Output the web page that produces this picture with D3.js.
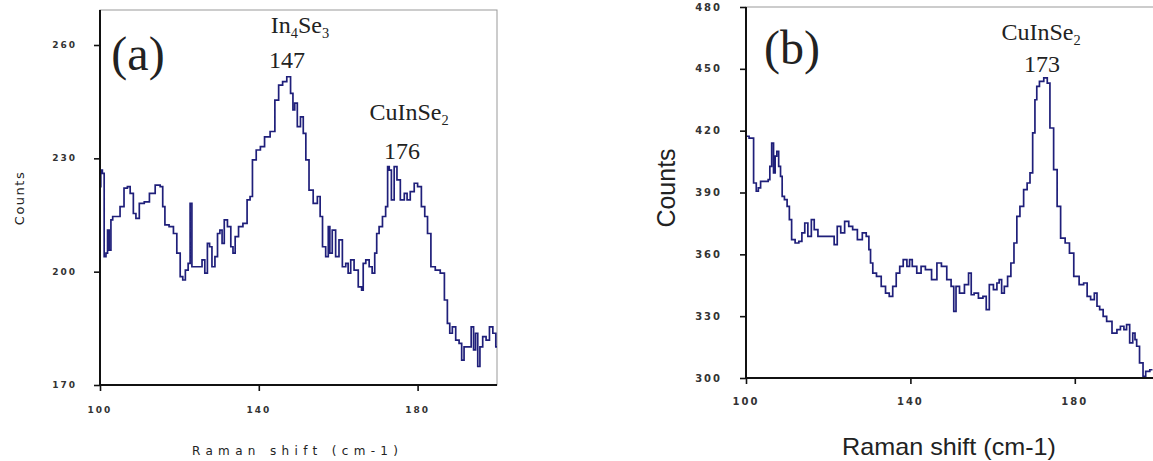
<!DOCTYPE html>
<html>
<head>
<meta charset="utf-8">
<script src="https://cdn.jsdelivr.net/npm/d3@7"></script>
<style>
  html, body { margin: 0; padding: 0; background: #fff; }
  svg { display: block; }
  .tick-label { font-family: "DejaVu Sans", Arial, sans-serif; font-weight: bold; fill: #333; }
  .ann { font-family: "Liberation Serif", "Times New Roman", serif; fill: #222; }
</style>
</head>
<body>
<svg id="chart" width="1153" height="461"></svg>
<script>
// Raman spectrum (a): shift in cm-1 and counts
const shiftA = [100.0,100.4,100.8,101.3,101.7,102.1,102.5,103.0,103.4,104.6,105.5,106.6,107.2,108.0,108.8,109.3,110.5,111.8,113.1,114.7,115.6,116.0,116.7,118.1,118.9,119.8,120.6,121.1,121.9,122.5,122.9,123.4,125.3,126.1,126.7,127.4,127.8,128.6,129.3,129.9,130.5,131.0,131.6,132.6,133.3,133.7,134.4,135.4,136.6,137.5,138.1,138.7,140.0,140.8,142.1,143.6,144.5,145.5,146.5,147.6,148.4,148.8,149.3,150.1,150.9,151.5,152.2,153.1,154.3,155.2,155.7,156.4,157.3,157.7,158.1,158.9,159.8,160.6,161.5,162.3,162.7,163.6,164.4,165.7,166.1,166.5,167.4,168.2,168.9,169.5,169.9,170.7,171.6,172.3,172.6,173.1,173.7,174.5,175.1,176.2,177.1,177.6,178.7,179.6,180.4,181.5,182.1,182.9,183.8,185.1,186.3,187.2,187.8,188.4,189.1,190.1,190.8,191.4,192.0,193.1,193.9,194.3,194.9,195.4,196.0,196.8,197.7,198.5,199.4,200.0];
const countsA = [222.5,226.9,226.0,204.0,204.9,211.0,205.7,213.7,214.6,214.6,217.2,222.1,222.5,220.7,215.4,214.1,218.1,218.5,220.7,222.9,222.5,217.2,212.4,211.9,210.1,204.9,198.7,197.8,200.4,202.2,218.1,201.3,201.3,203.1,199.6,207.5,206.6,201.3,204.0,210.1,211.0,207.5,213.7,211.9,206.6,204.9,209.3,211.9,212.8,219.0,219.9,229.6,232.2,233.1,235.7,237.1,245.4,249.4,250.3,251.6,247.2,242.8,244.6,238.4,241.0,236.6,229.6,221.6,218.1,219.9,214.6,206.6,204.0,211.9,204.9,211.0,204.0,208.4,201.3,202.2,199.6,203.1,200.4,196.0,195.1,202.2,203.1,201.3,199.6,204.9,210.1,211.9,214.6,217.2,227.8,226.9,219.0,227.8,224.3,219.0,220.7,219.0,221.2,223.4,222.5,217.2,214.6,210.1,201.3,200.4,199.6,192.5,186.3,183.7,185.4,181.9,181.0,176.6,180.1,180.1,185.4,179.3,183.7,174.9,180.1,182.8,181.9,185.4,183.7,180.1];

// Raman spectrum (b): shift in cm-1 and counts
const shiftB = [100.0,101.5,102.2,102.8,103.2,103.9,105.2,105.6,106.0,106.5,106.9,107.3,107.7,108.2,108.6,109.0,109.7,110.3,110.8,111.4,112.5,113.2,114.0,114.6,115.5,116.3,116.9,118.1,121.1,121.8,122.6,123.5,124.5,125.5,126.4,127.8,128.8,129.7,130.1,130.5,131.2,132.3,133.5,134.4,135.3,136.1,137.0,137.8,138.7,139.6,140.0,140.9,142.2,143.0,144.3,146.0,146.9,148.2,149.5,150.3,150.8,151.4,152.5,153.8,154.5,155.1,155.9,157.2,158.1,158.8,159.6,160.8,161.3,161.9,162.5,163.2,164.1,164.8,165.6,166.2,167.1,168.0,168.8,169.4,170.1,170.5,171.0,171.8,173.1,173.5,174.4,175.3,176.1,177.0,178.3,179.1,180.4,181.7,182.6,183.4,184.3,185.2,185.6,186.5,187.3,188.2,189.9,190.6,191.6,192.3,192.9,193.8,194.4,194.9,195.2,196.3,196.9,197.6,198.9];
const countsB = [417.3,416.4,394.6,390.6,392.2,395.4,395.4,396.2,402.7,414.0,399.5,407.6,410.0,402.7,397.8,388.1,386.5,383.3,376.8,367.1,365.5,366.3,370.4,375.2,368.7,376.8,372.0,368.7,368.7,364.7,373.6,370.4,376.0,373.6,372.0,367.1,370.4,368.7,362.3,355.8,350.9,349.3,344.5,341.2,339.6,344.5,350.9,354.2,357.4,354.2,357.4,354.2,350.9,354.2,352.6,347.7,355.8,354.2,347.7,344.5,332.3,344.5,341.2,345.3,350.9,340.4,341.2,338.8,339.6,333.2,345.3,342.9,346.1,347.7,341.2,344.5,349.3,355.8,365.5,378.4,383.3,391.4,394.6,399.5,418.9,435.0,441.5,443.9,445.6,443.1,421.3,401.1,383.3,367.9,365.5,360.6,349.3,345.3,346.1,339.6,338.0,341.2,334.8,333.2,329.9,327.5,321.8,323.5,325.1,323.5,325.9,317.0,321.8,318.6,315.4,307.3,300.8,303.2,304.0];

// Axis ticks
const xTicks = [100, 140, 180];
const yTicksA = [170, 200, 230, 260];
const yTicksB = [300, 330, 360, 390, 420, 450, 480];

const svg = d3.select("#chart");
const lineColor = "#1f1f7a";

function panel(opts) {
  const g = svg.append("g");
  const x = d3.scaleLinear().domain([100, 200]).range([opts.left, opts.right]);
  const y = d3.scaleLinear().domain(opts.yDomain).range([opts.bottom, opts.yTopTick]);

  // light frame around the plot area
  g.append("rect")
    .attr("x", opts.left).attr("y", opts.top)
    .attr("width", opts.right - opts.left).attr("height", opts.bottom - opts.top)
    .attr("fill", "none").attr("stroke", "#999").attr("stroke-width", 1);

  const clipId = "clip-" + opts.id;
  svg.append("clipPath").attr("id", clipId).append("rect")
    .attr("x", opts.left).attr("y", opts.top - 2)
    .attr("width", opts.right - opts.left).attr("height", opts.bottom - opts.top + 2);

  const data = opts.xs.map((v, i) => [v, opts.ys[i]]);
  g.append("path")
    .datum(data)
    .attr("clip-path", `url(#${clipId})`)
    .attr("fill", "none")
    .attr("stroke", lineColor)
    .attr("stroke-width", 1.7)
    .attr("d", d3.line().curve(d3.curveStep).x(d => x(d[0])).y(d => y(d[1])));

  // axes
  const xAxis = d3.axisBottom(x).tickValues(xTicks).tickSize(6).tickFormat("");
  const yAxis = d3.axisLeft(y).tickValues(opts.yTicks).tickSize(6).tickFormat("");
  const gx = g.append("g").attr("transform", `translate(0,${opts.bottom})`).call(xAxis);
  const gy = g.append("g").attr("transform", `translate(${opts.left},0)`).call(yAxis);
  [gx, gy].forEach(a => {
    a.select(".domain").attr("stroke", "#111").attr("stroke-width", 2);
    a.selectAll(".tick line").attr("stroke", "#111").attr("stroke-width", 1.6);
  });
  gy.select(".domain").attr("d", `M0,${opts.top}V${opts.bottom}`);
  gx.select(".domain").attr("d", `M${opts.left},0H${opts.right}`);

  // tick labels
  g.selectAll(".ylab").data(opts.yTicks).enter().append("text")
    .attr("class", "tick-label")
    .attr("x", opts.left - opts.yLabOffset).attr("y", d => y(d))
    .attr("dy", "0.35em").attr("text-anchor", "end")
    .attr("font-size", opts.tickFont).attr("letter-spacing", opts.tickSpacing)
    .text(d => d);
  g.selectAll(".xlab").data(xTicks).enter().append("text")
    .attr("class", "tick-label")
    .attr("x", d => x(d)).attr("y", opts.xLabY)
    .attr("text-anchor", "middle")
    .attr("font-size", opts.tickFont).attr("letter-spacing", opts.tickSpacing)
    .text(d => d);

  return { g, x, y };
}

// chemical formula with subscripts; parts alternate between normal and subscript runs
function chem(g, x, y, parts, size) {
  const t = g.append("text").attr("class", "ann").attr("x", x).attr("y", y)
    .attr("font-size", size).attr("text-anchor", "middle");
  let shifted = false;
  parts.forEach(p => {
    const span = t.append("tspan").text(p.t);
    if (p.sub) {
      span.attr("font-size", size * 0.6).attr("dy", size * 0.2);
      shifted = true;
    } else if (shifted) {
      span.attr("dy", -size * 0.2);
      shifted = false;
    }
  });
  return t;
}

// ---- panel (a)
const pa = panel({
  id: "a", left: 100, right: 497, top: 10, bottom: 385, yTopTick: 45,
  yDomain: [170, 260], yTicks: yTicksA, xs: shiftA, ys: countsA,
  tickFont: 9, tickSpacing: 2, yLabOffset: 23, xLabY: 413
});
pa.g.append("text")
  .attr("transform", "translate(24,198) rotate(-90)")
  .attr("text-anchor", "middle")
  .attr("font-family", "DejaVu Sans, Arial, sans-serif").attr("font-size", 13)
  .attr("letter-spacing", 1.5).attr("fill", "#222")
  .text("Counts");
pa.g.append("text")
  .attr("x", 192).attr("y", 455)
  .attr("font-family", "DejaVu Sans, Arial, sans-serif").attr("font-size", 12)
  .attr("textLength", 206).attr("lengthAdjust", "spacing").attr("fill", "#222")
  .text("Raman shift (cm-1)");

pa.g.append("text").attr("class", "ann").attr("x", 138).attr("y", 70)
  .attr("font-size", 48).attr("text-anchor", "middle").text("(a)");
chem(pa.g, 300, 33, [{t: "In"}, {t: "4", sub: true}, {t: "Se"}, {t: "3", sub: true}], 24);
pa.g.append("text").attr("class", "ann").attr("x", 287).attr("y", 68)
  .attr("font-size", 24).attr("text-anchor", "middle").text("147");
chem(pa.g, 409, 120, [{t: "CuInSe"}, {t: "2", sub: true}], 24);
pa.g.append("text").attr("class", "ann").attr("x", 402).attr("y", 159)
  .attr("font-size", 24).attr("text-anchor", "middle").text("176");

// ---- panel (b)
const pb = panel({
  id: "b", left: 746, right: 1157, top: 7, bottom: 378, yTopTick: 7,
  yDomain: [300, 480], yTicks: yTicksB, xs: shiftB, ys: countsB,
  tickFont: 10, tickSpacing: 2, yLabOffset: 24, xLabY: 405
});
pb.g.append("text")
  .attr("transform", "translate(675,188) rotate(-90)")
  .attr("text-anchor", "middle")
  .attr("font-family", "Liberation Sans, Arial, sans-serif").attr("font-size", 25)
  .attr("fill", "#222")
  .text("Counts");
pb.g.append("text")
  .attr("x", 949).attr("y", 455).attr("text-anchor", "middle")
  .attr("font-family", "Liberation Sans, Arial, sans-serif").attr("font-size", 24)
  .attr("textLength", 214).attr("lengthAdjust", "spacingAndGlyphs").attr("fill", "#222")
  .text("Raman shift (cm-1)");
pb.g.append("text").attr("class", "ann").attr("x", 792).attr("y", 64)
  .attr("font-size", 48).attr("text-anchor", "middle").text("(b)");
chem(pb.g, 1041, 40, [{t: "CuInSe"}, {t: "2", sub: true}], 24);
pb.g.append("text").attr("class", "ann").attr("x", 1042).attr("y", 72)
  .attr("font-size", 24).attr("text-anchor", "middle").text("173");
</script>
</body>
</html>
